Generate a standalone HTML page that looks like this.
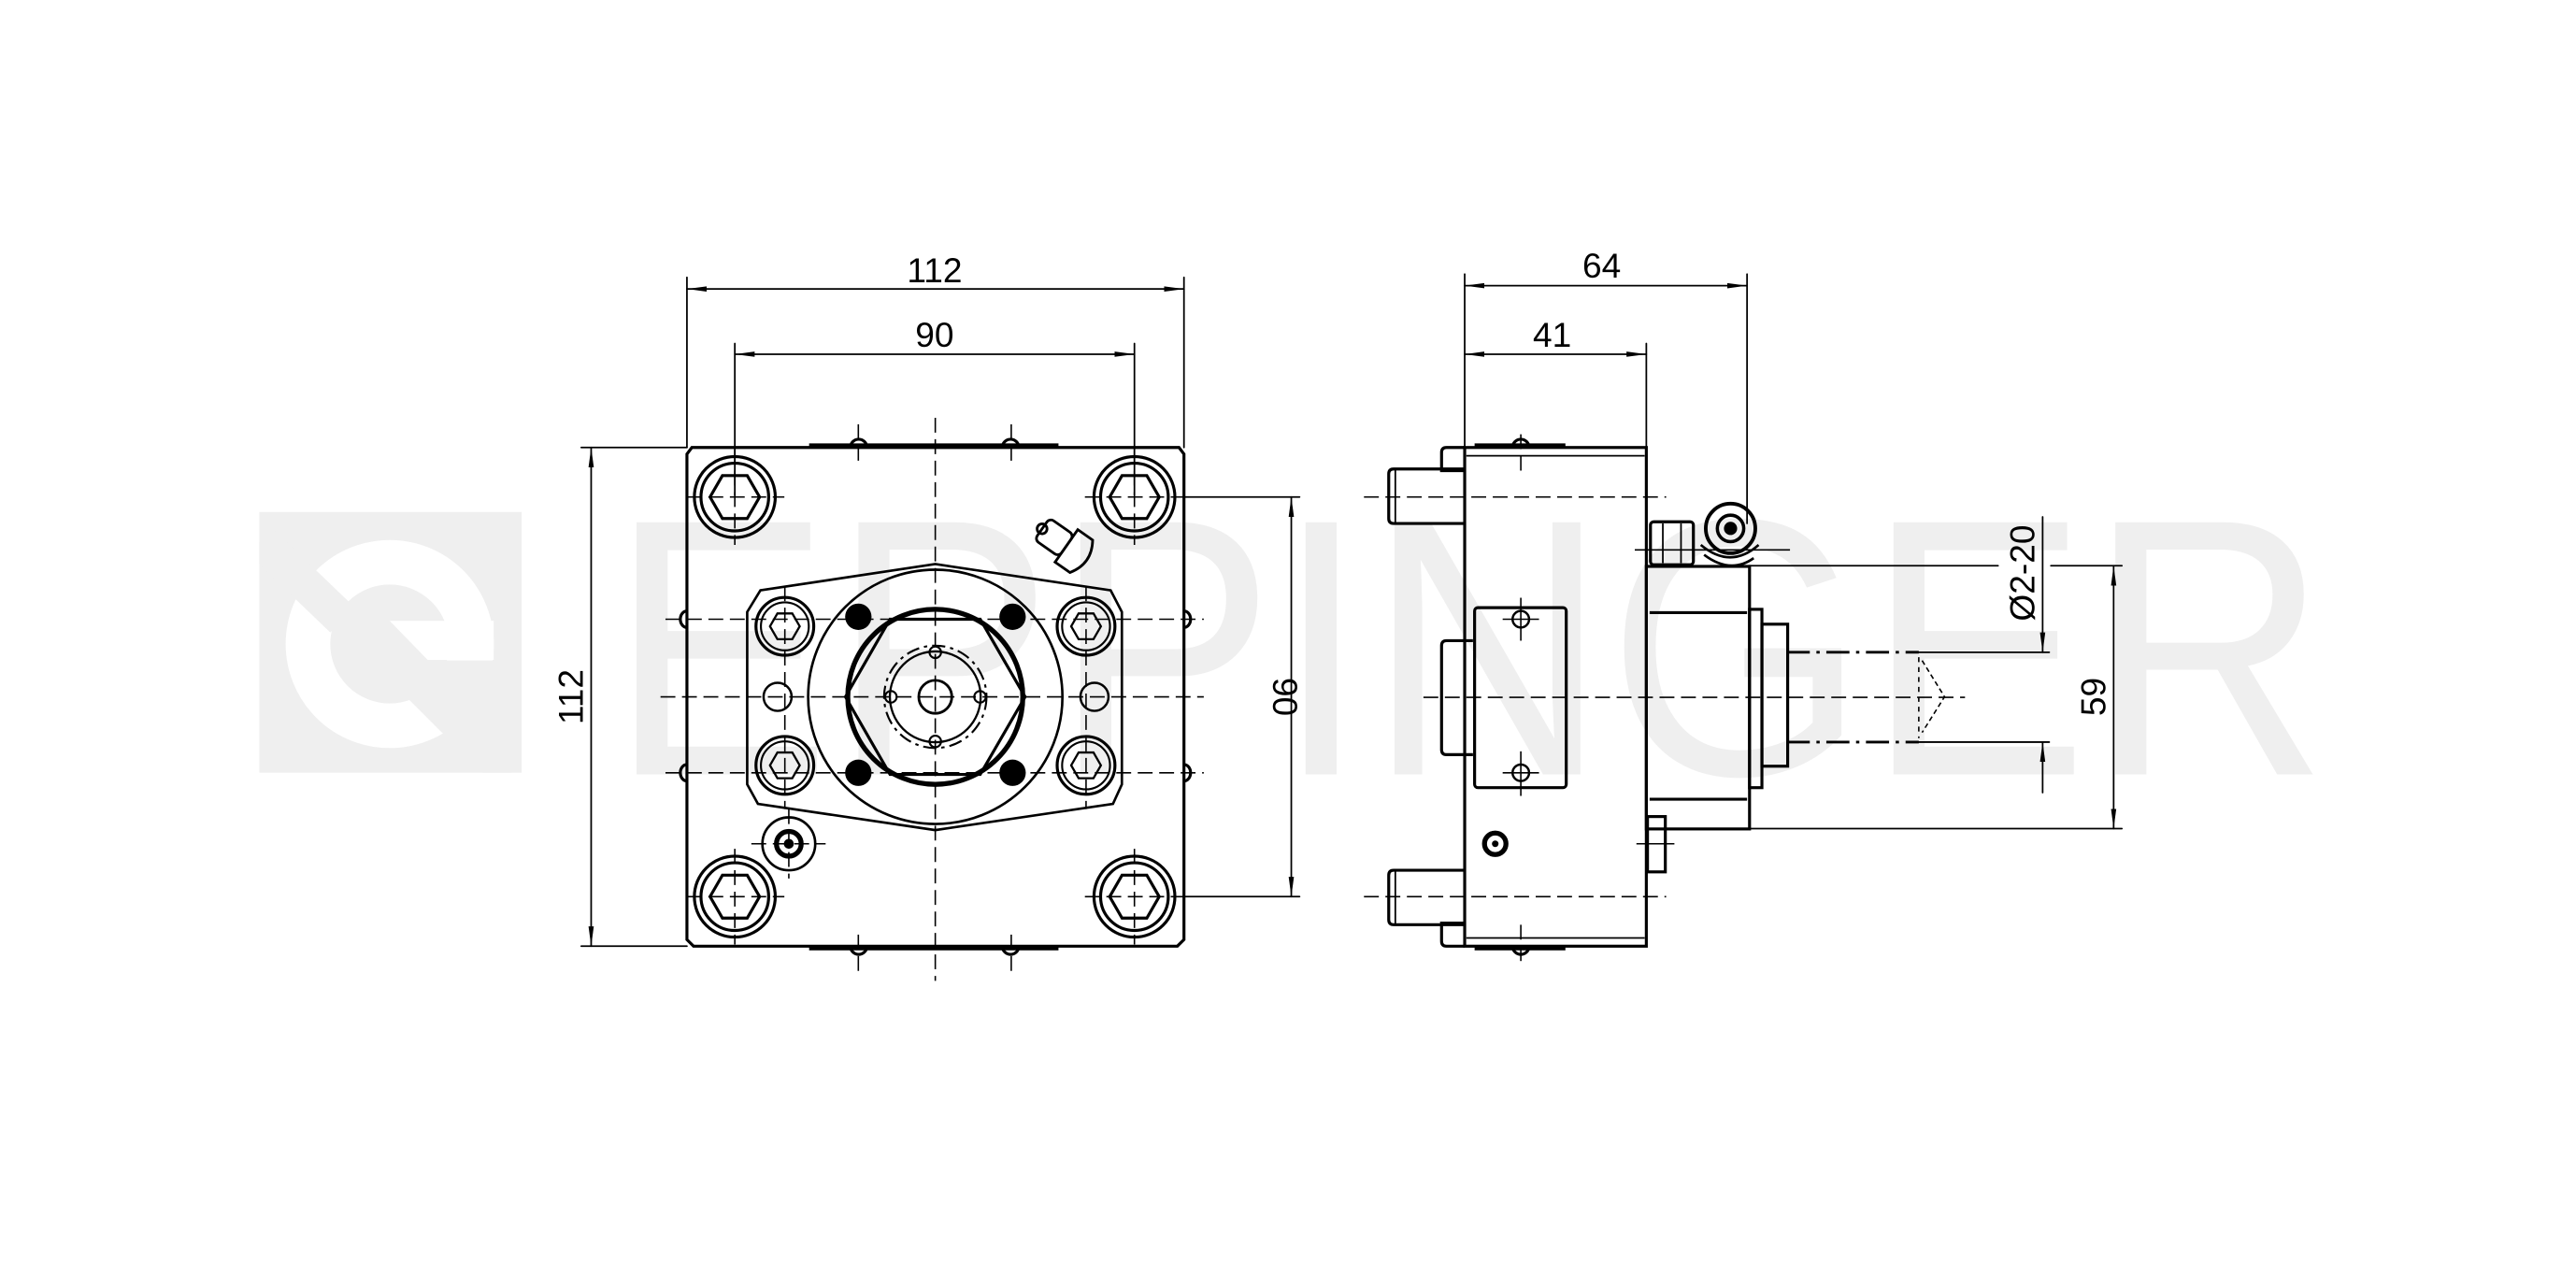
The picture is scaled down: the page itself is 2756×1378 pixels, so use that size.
<!DOCTYPE html>
<html><head><meta charset="utf-8"><style>
html,body{margin:0;padding:0;background:#fff;}
svg{display:block;}
text{font-family:"Liberation Sans",sans-serif;}
</style></head><body>
<svg width="2756" height="1378" viewBox="0 0 1560 780" preserveAspectRatio="none" xmlns="http://www.w3.org/2000/svg">
<defs>
<marker id="a" viewBox="0 0 12 4" refX="12" refY="2" markerWidth="12" markerHeight="4" markerUnits="userSpaceOnUse" orient="auto-start-reverse">
<path d="M12,2 L0,0.4 L0,3.6 Z" fill="#000"/>
</marker>
<clipPath id="lc"><rect x="157" y="310" width="159" height="158"/></clipPath>
<g id="cb" fill="none" stroke="#000" stroke-width="1.8">
<circle cx="0" cy="0" r="24.5"/><circle cx="0" cy="0" r="20.5"/>
<polygon points="-15,0 -7.5,-13 7.5,-13 15,0 7.5,13 -7.5,13"/>
</g>
<g id="fb" fill="none" stroke="#000" stroke-width="1.8">
<circle r="17.5"/><circle r="14.5" stroke-width="1.2"/>
<polygon points="-9,0 -4.5,-7.8 4.5,-7.8 9,0 4.5,7.8 -4.5,7.8" stroke-width="1.3"/>
</g>
</defs>
<g clip-path="url(#lc)">
<rect x="157" y="310" width="159" height="158" fill="#efefef"/>
<circle cx="236" cy="390" r="49.5" fill="none" stroke="#fff" stroke-width="27"/>
<polygon points="165,320 215,368 200,383 150,335" fill="#efefef"/>
<polygon points="232,400 310,400 310,475 299,475 240,416" fill="#efefef"/>
<polygon points="236,376 299,376 299,399.6 259,399.6" fill="#fff"/>
</g>
<text x="369" y="469" font-size="222" fill="#efefef" textLength="1041" lengthAdjust="spacingAndGlyphs">EPPINGER</text>

<g fill="none" stroke="#000" stroke-width="1" stroke-linecap="round">
<line x1="416" y1="168" x2="416" y2="271"/>
<line x1="717" y1="168" x2="717" y2="271"/>
<line x1="416" y1="175" x2="717" y2="175" marker-start="url(#a)" marker-end="url(#a)"/>
<line x1="445" y1="208" x2="445" y2="300"/>
<line x1="687" y1="208" x2="687" y2="300"/>
<line x1="445" y1="214.5" x2="687" y2="214.5" marker-start="url(#a)" marker-end="url(#a)"/>
<line x1="352" y1="271" x2="416" y2="271"/>
<line x1="352" y1="573" x2="416" y2="573"/>
<line x1="358" y1="271" x2="358" y2="573" marker-start="url(#a)" marker-end="url(#a)"/>
<line x1="717" y1="301" x2="787" y2="301"/>
<line x1="717" y1="543" x2="787" y2="543"/>
<line x1="782" y1="301" x2="782" y2="543" marker-start="url(#a)" marker-end="url(#a)"/>
</g>
<g font-size="21" fill="#000" text-anchor="middle">
<text x="566" y="171">112</text>
<text x="566" y="210">90</text>
<text transform="translate(353,422) rotate(-90)">112</text>
<text transform="translate(771,422) rotate(90)">90</text>
</g>

<g fill="none" stroke="#000" stroke-width="1.8">
<path d="M419,271 L714,271 L717,275 L717,569 L713,573 L420,573 L416,569 L416,275 Z"/>
<line x1="490" y1="269.5" x2="641" y2="269.5" stroke-width="2"/>
<line x1="490" y1="574.5" x2="641" y2="574.5" stroke-width="2"/>
<path d="M515,271 a5,5 0 0 1 10,0 M607,271 a5,5 0 0 1 10,0 M515,573 a5,5 0 0 0 10,0 M607,573 a5,5 0 0 0 10,0"/>
<path d="M416,370 a4,5 0 0 0 0,10 M416,463 a4,5 0 0 0 0,10 M717,370 a4,5 0 0 1 0,10 M717,463 a4,5 0 0 1 0,10"/>
<use href="#cb" x="445" y="301"/><use href="#cb" x="687" y="301"/>
<use href="#cb" x="445" y="543"/><use href="#cb" x="687" y="543"/>
<polygon points="460.5,357.5 566.4,341.6 672.6,357.5 679.4,370.6 679.4,475 674,486.8 566.4,502.7 459,486.8 452.5,475 452.5,370.6" stroke-width="1.5"/>
<circle cx="566.4" cy="422" r="77" stroke-width="1.5"/>
<use href="#fb" x="475.3" y="379.3"/><use href="#fb" x="657.7" y="379.3"/>
<use href="#fb" x="475.3" y="463.5"/><use href="#fb" x="657.7" y="463.5"/>
<circle cx="470.9" cy="422" r="8.5" stroke-width="1.4"/>
<circle cx="662.8" cy="422" r="8.5" stroke-width="1.4"/>
<circle cx="566.4" cy="422" r="53" stroke-width="3"/>
<polygon points="512,422 539,375 593.6,375 620.8,422 593.6,469 539,469" stroke-width="1.8"/>
<circle cx="566.4" cy="422" r="31" stroke-width="1.2" stroke-dasharray="8,3,2,3"/>
<circle cx="566.4" cy="422" r="27.5" stroke-width="1.3"/>
<circle cx="566.4" cy="422" r="10" stroke-width="1.6"/>
<circle cx="539.5" cy="422" r="3.5" stroke-width="1.2"/><circle cx="593.5" cy="422" r="3.5" stroke-width="1.2"/>
<circle cx="566.4" cy="395" r="3.5" stroke-width="1.2"/><circle cx="566.4" cy="449" r="3.5" stroke-width="1.2"/>
<circle cx="477.7" cy="511" r="16" stroke-width="1.5"/>
<circle cx="477.7" cy="511" r="7.5" stroke-width="3"/>
<g transform="translate(645,330) rotate(35)" stroke-width="1.6">
<rect x="-17" y="-8" width="18" height="16" rx="3"/>
<circle cx="-17" cy="0" r="3"/>
<path d="M1,-12 L12,-12 Q20,0 12,12 L1,12 Z"/>
</g>
</g>
<g fill="#000">
<circle cx="519.8" cy="373.5" r="8"/><circle cx="613.2" cy="373.5" r="8"/>
<circle cx="519.8" cy="468" r="8"/><circle cx="613.2" cy="468" r="8"/>
<circle cx="477.7" cy="511" r="3"/>
</g>
<g stroke="#000" stroke-width="0.9" fill="none" stroke-dasharray="9,4">
<line x1="566.4" y1="253" x2="566.4" y2="594"/>
<line x1="400" y1="422" x2="729" y2="422"/>
<line x1="403" y1="375" x2="729" y2="375"/>
<line x1="403" y1="468" x2="729" y2="468"/>
<line x1="519.8" y1="257" x2="519.8" y2="282"/><line x1="612.4" y1="257" x2="612.4" y2="282"/>
<line x1="519.8" y1="566" x2="519.8" y2="592"/><line x1="612.4" y1="566" x2="612.4" y2="592"/>
<line x1="475.3" y1="355" x2="475.3" y2="490"/><line x1="657.7" y1="355" x2="657.7" y2="490"/>
<line x1="445" y1="272" x2="445" y2="330"/><line x1="687" y1="272" x2="687" y2="330"/>
<line x1="445" y1="514" x2="445" y2="572"/><line x1="687" y1="514" x2="687" y2="572"/>
<line x1="416" y1="301" x2="475" y2="301"/><line x1="657" y1="301" x2="717" y2="301"/>
<line x1="416" y1="543" x2="475" y2="543"/><line x1="657" y1="543" x2="717" y2="543"/>
<line x1="455" y1="511" x2="500" y2="511"/><line x1="477.7" y1="490" x2="477.7" y2="532"/>
</g>

<g fill="none" stroke="#000" stroke-width="1" stroke-linecap="round">
<line x1="887" y1="166" x2="887" y2="271"/>
<line x1="1058" y1="166" x2="1058" y2="317"/>
<line x1="887" y1="173" x2="1058" y2="173" marker-start="url(#a)" marker-end="url(#a)"/>
<line x1="997" y1="208" x2="997" y2="271"/>
<line x1="887" y1="214.5" x2="997" y2="214.5" marker-start="url(#a)" marker-end="url(#a)"/>
<line x1="1059" y1="342.6" x2="1210" y2="342.6"/>
<line x1="1242" y1="342.6" x2="1285" y2="342.6"/>
<line x1="1059.5" y1="501.8" x2="1285" y2="501.8"/>
<line x1="1280" y1="342.6" x2="1280" y2="501.8" marker-start="url(#a)" marker-end="url(#a)"/>
<line x1="1162" y1="395" x2="1241" y2="395"/>
<line x1="1162" y1="449.4" x2="1241" y2="449.4"/>
<line x1="1237" y1="313" x2="1237" y2="395" marker-end="url(#a)"/>
<line x1="1237" y1="449.4" x2="1237" y2="480" marker-start="url(#a)"/>
</g>
<g font-size="21" fill="#000" text-anchor="middle">
<text x="970" y="168">64</text>
<text x="940" y="210">41</text>
<text transform="translate(1232,347) rotate(-90)">Ø2-20</text>
<text transform="translate(1275,422) rotate(-90)">59</text>
</g>

<g fill="none" stroke="#000" stroke-width="1.8">
<rect x="887" y="271" width="110" height="302"/>
<line x1="893" y1="269.5" x2="948" y2="269.5" stroke-width="2"/>
<line x1="893" y1="574.5" x2="948" y2="574.5" stroke-width="2"/>
<line x1="888" y1="276" x2="996" y2="276" stroke-width="1"/>
<line x1="888" y1="568" x2="996" y2="568" stroke-width="1"/>
<path d="M916,271 a5,5 0 0 1 10,0 M916,573 a5,5 0 0 0 10,0"/>
<path d="M887,271 L876,271 Q873,271 873,274 L873,285 L887,285"/>
<path d="M887,573 L876,573 Q873,573 873,570 L873,559 L887,559"/>
<path d="M887,284 L844,284 Q841,284 841,287 L841,314 Q841,317 844,317 L887,317"/>
<line x1="845" y1="284" x2="845" y2="317" stroke-width="1"/>
<path d="M887,527 L844,527 Q841,527 841,530 L841,557 Q841,560 844,560 L887,560"/>
<line x1="845" y1="527" x2="845" y2="560" stroke-width="1"/>
<path d="M892,388 L876,388 Q873,388 873,391 L873,454 Q873,457 876,457 L892,457"/>
<rect x="893" y="368" width="55.5" height="109" rx="2"/>
<circle cx="921" cy="375" r="5" stroke-width="1.4"/>
<circle cx="921" cy="468" r="5" stroke-width="1.4"/>
<circle cx="905.5" cy="511" r="6.5" stroke-width="3"/>
<rect x="997" y="343" width="62.5" height="159"/>
<line x1="999" y1="371" x2="1058" y2="371"/>
<line x1="999" y1="484" x2="1058" y2="484"/>
<rect x="1059.5" y="369" width="7.5" height="108"/>
<rect x="1067" y="378" width="15.6" height="86"/>
<rect x="997.7" y="494.5" width="10.8" height="33.5"/>
<rect x="999.5" y="316" width="26" height="26" rx="2"/>
<line x1="1007" y1="317" x2="1007" y2="341" stroke-width="1"/>
<line x1="1018" y1="317" x2="1018" y2="341" stroke-width="1"/>
<circle cx="1048" cy="320" r="15" stroke-width="2.2"/>
<circle cx="1048" cy="320" r="8" stroke-width="2"/>
<path d="M1030,330 Q1048,345 1065,330 M1032,336 Q1048,348 1062,338" stroke-width="1.5"/>
</g>
<circle cx="1048" cy="320" r="4" fill="#000"/>
<circle cx="905.5" cy="511" r="2" fill="#000"/>
<g stroke="#000" stroke-width="0.9" fill="none">
<line x1="826" y1="301" x2="1009" y2="301" stroke-dasharray="9,4"/>
<line x1="826" y1="543" x2="1009" y2="543" stroke-dasharray="9,4"/>
<line x1="862" y1="422.3" x2="1190" y2="422.3" stroke-dasharray="9,4"/>
<line x1="921" y1="263" x2="921" y2="288" stroke-dasharray="9,4"/>
<line x1="921" y1="560" x2="921" y2="585" stroke-dasharray="9,4"/>
<line x1="921" y1="362" x2="921" y2="388"/>
<line x1="910" y1="375" x2="932" y2="375"/>
<line x1="921" y1="455" x2="921" y2="482"/>
<line x1="910" y1="468" x2="932" y2="468"/>
<line x1="990" y1="333" x2="1084" y2="333"/>
<line x1="991" y1="511" x2="1014" y2="511"/>
<line x1="1082" y1="395" x2="1162" y2="395" stroke-width="1.6" stroke-dasharray="14,4,2,4"/>
<line x1="1082" y1="449.4" x2="1162" y2="449.4" stroke-width="1.6" stroke-dasharray="14,4,2,4"/>
<line x1="1162" y1="398" x2="1162" y2="447" stroke-dasharray="3,3"/>
<polyline points="1164,400 1177.6,422 1164,443.6" stroke-dasharray="3,2"/>
</g>
</svg>
</body></html>
